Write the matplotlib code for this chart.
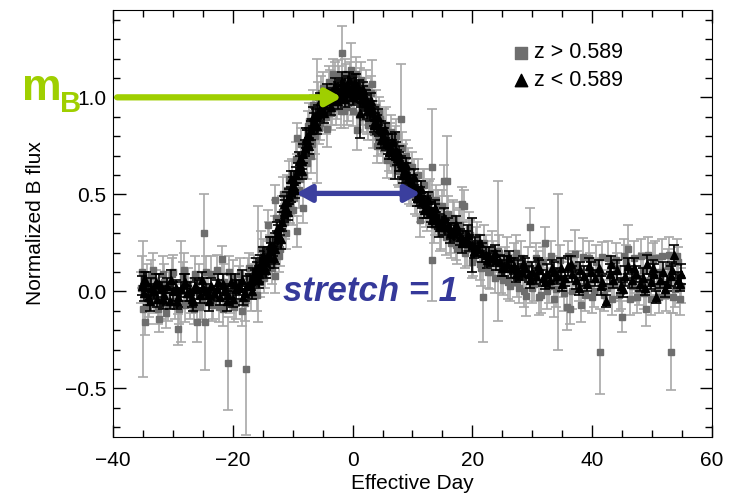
#
# lightcurve_stack.py
# -------------------
#

import matplotlib
matplotlib.use("Agg")
import matplotlib.pyplot as plt
from matplotlib.ticker import MultipleLocator

plt.rcParams['font.family'] = ['Liberation Sans', 'DejaVu Sans']

# z < 0.589 : (effective day, normalized flux, error)
low_pts = [
    (-35.2, 0.03, 0.05), (-34.9, 0.06, 0.04), (-34.8, -0.01, 0.04), (-34.5, 0.05, 0.05),
    (-34.1, -0.03, 0.04), (-33.9, -0.05, 0.05), (-33.6, 0.02, 0.05), (-33.2, 0.00, 0.04),
    (-32.9, 0.05, 0.04), (-32.7, -0.04, 0.04), (-32.3, 0.04, 0.05), (-31.8, 0.01, 0.04),
    (-31.6, -0.04, 0.05), (-31.4, -0.02, 0.05), (-30.9, 0.03, 0.04), (-30.5, -0.05, 0.04),
    (-30.3, 0.06, 0.05), (-30.0, 0.00, 0.05), (-29.5, 0.02, 0.04), (-29.3, -0.05, 0.04),
    (-29.1, -0.03, 0.05), (-28.6, 0.01, 0.04), (-28.2, 0.04, 0.05), (-28.0, 0.05, 0.04),
    (-27.7, -0.01, 0.04), (-27.2, 0.00, 0.05), (-26.8, -0.04, 0.04), (-26.6, -0.05, 0.05),
    (-26.3, 0.03, 0.04), (-25.9, 0.01, 0.05), (-25.4, -0.02, 0.04), (-25.2, 0.06, 0.04),
    (-24.9, 0.02, 0.05), (-24.5, 0.00, 0.04), (-24.0, -0.05, 0.05), (-23.9, -0.02, 0.04),
    (-23.6, 0.03, 0.04), (-23.1, -0.01, 0.04), (-22.6, 0.01, 0.05), (-22.4, 0.05, 0.04),
    (-22.2, -0.03, 0.04), (-21.7, 0.04, 0.05), (-21.3, 0.00, 0.04), (-21.0, -0.05, 0.05),
    (-20.8, -0.02, 0.05), (-20.3, 0.05, 0.04), (-19.9, -0.04, 0.04), (-19.6, 0.04, 0.05),
    (-19.4, 0.01, 0.05), (-19.0, 0.02, 0.04), (-18.5, 0.06, 0.05), (-18.3, -0.03, 0.04),
    (-18.0, -0.01, 0.04), (-17.6, 0.03, 0.05), (-17.2, 0.05, 0.04), (-16.9, 0.03, 0.05),
    (-16.8, 0.00, 0.04), (-16.6, 0.08, 0.04), (-16.3, 0.07, 0.04), (-16.2, 0.12, 0.05),
    (-16.0, 0.10, 0.05), (-15.7, 0.09, 0.04), (-15.6, 0.06, 0.04), (-15.4, 0.14, 0.05),
    (-15.1, 0.12, 0.04), (-15.0, 0.18, 0.05), (-14.8, 0.16, 0.05), (-14.5, 0.15, 0.04),
    (-14.4, 0.11, 0.04), (-14.2, 0.19, 0.04), (-13.9, 0.17, 0.05), (-13.8, 0.24, 0.04),
    (-13.6, 0.21, 0.04), (-13.3, 0.23, 0.05), (-13.2, 0.17, 0.05), (-13.0, 0.22, 0.08),
    (-12.7, 0.27, 0.04), (-12.6, 0.32, 0.04), (-12.4, 0.29, 0.05), (-12.1, 0.33, 0.04),
    (-12.0, 0.27, 0.05), (-11.8, 0.36, 0.05), (-11.5, 0.40, 0.04), (-11.4, 0.45, 0.04),
    (-11.2, 0.43, 0.04), (-10.9, 0.46, 0.05), (-10.8, 0.41, 0.04), (-10.6, 0.49, 0.04),
    (-10.3, 0.51, 0.05), (-10.2, 0.58, 0.04), (-10.0, 0.55, 0.04), (-9.7, 0.57, 0.05),
    (-9.6, 0.52, 0.04), (-9.4, 0.60, 0.04), (-9.1, 0.62, 0.04), (-9.0, 0.67, 0.05),
    (-8.8, 0.65, 0.05), (-8.5, 0.67, 0.04), (-8.4, 0.62, 0.04), (-8.2, 0.71, 0.05),
    (-7.9, 0.74, 0.04), (-7.8, 0.79, 0.05), (-7.6, 0.78, 0.05), (-7.3, 0.80, 0.04),
    (-7.2, 0.75, 0.04), (-7.0, 0.83, 0.05), (-6.7, 0.85, 0.04), (-6.6, 0.90, 0.05),
    (-6.4, 0.87, 0.05), (-6.1, 0.90, 0.04), (-6.0, 0.85, 0.04), (-5.8, 0.92, 0.04),
    (-5.5, 0.94, 0.05), (-5.4, 0.98, 0.04), (-5.2, 0.95, 0.04), (-4.9, 0.97, 0.05),
    (-4.8, 0.92, 0.05), (-4.6, 0.96, 0.04), (-4.3, 0.99, 0.05), (-4.2, 1.03, 0.04),
    (-4.0, 1.00, 0.04), (-3.7, 0.98, 0.05), (-3.6, 0.95, 0.04), (-3.4, 1.01, 0.04),
    (-3.1, 1.02, 0.05), (-3.0, 1.06, 0.04), (-2.8, 1.00, 0.04), (-2.5, 1.03, 0.05),
    (-2.4, 0.98, 0.04), (-2.2, 1.01, 0.04), (-1.9, 1.04, 0.05), (-1.8, 1.08, 0.05),
    (-1.6, 1.02, 0.04), (-1.3, 1.05, 0.05), (-1.2, 0.99, 0.04), (-1.0, 1.03, 0.04),
    (-0.7, 1.06, 0.05), (-0.6, 1.09, 0.04), (-0.4, 1.02, 0.04), (-0.1, 1.04, 0.06),
    (0.0, 1.00, 0.04), (0.2, 1.07, 0.05), (0.5, 1.03, 0.04), (0.6, 1.07, 0.05),
    (0.8, 1.01, 0.04), (1.1, 1.04, 0.05), (1.2, 0.92, 0.13), (1.4, 0.99, 0.04),
    (1.7, 1.01, 0.05), (1.8, 1.04, 0.04), (2.0, 0.97, 0.04), (2.3, 0.99, 0.05),
    (2.4, 0.93, 0.04), (2.6, 0.95, 0.04), (2.9, 0.93, 0.05), (3.0, 0.98, 0.04),
    (3.2, 0.94, 0.04), (3.5, 0.90, 0.05), (3.6, 0.86, 0.04), (3.8, 0.88, 0.04),
    (4.1, 0.86, 0.05), (4.2, 0.90, 0.04), (4.4, 0.84, 0.04), (4.7, 0.83, 0.05),
    (4.8, 0.78, 0.04), (5.0, 0.80, 0.04), (5.3, 0.79, 0.05), (5.4, 0.83, 0.04),
    (5.6, 0.77, 0.04), (5.9, 0.76, 0.05), (6.0, 0.72, 0.04), (6.2, 0.74, 0.04),
    (6.5, 0.73, 0.05), (6.6, 0.77, 0.04), (6.8, 0.72, 0.04), (7.1, 0.70, 0.12),
    (7.2, 0.73, 0.04), (7.4, 0.69, 0.04), (7.7, 0.67, 0.05), (7.8, 0.71, 0.04),
    (8.0, 0.66, 0.04), (8.3, 0.64, 0.05), (8.4, 0.60, 0.04), (8.6, 0.62, 0.04),
    (8.9, 0.61, 0.05), (9.0, 0.65, 0.04), (9.2, 0.59, 0.04), (9.5, 0.58, 0.05),
    (9.6, 0.54, 0.04), (9.8, 0.56, 0.04), (10.1, 0.55, 0.05), (10.2, 0.59, 0.04),
    (10.4, 0.53, 0.04), (10.7, 0.52, 0.05), (10.8, 0.48, 0.04), (11.0, 0.50, 0.04),
    (11.3, 0.49, 0.05), (11.4, 0.53, 0.04), (11.6, 0.47, 0.04), (11.9, 0.46, 0.05),
    (12.0, 0.42, 0.04), (12.2, 0.45, 0.04), (12.5, 0.43, 0.05), (12.6, 0.47, 0.04),
    (12.8, 0.42, 0.04), (13.1, 0.41, 0.05), (13.2, 0.37, 0.04), (13.4, 0.39, 0.04),
    (13.7, 0.40, 0.05), (13.8, 0.43, 0.04), (14.0, 0.37, 0.04), (14.4, 0.33, 0.05),
    (14.5, 0.36, 0.04), (15.0, 0.35, 0.04), (15.2, 0.38, 0.05), (15.5, 0.33, 0.04),
    (16.0, 0.34, 0.04), (16.2, 0.30, 0.05), (16.5, 0.31, 0.04), (17.0, 0.30, 0.04),
    (17.2, 0.34, 0.05), (17.5, 0.31, 0.04), (18.0, 0.28, 0.04), (18.2, 0.25, 0.05),
    (18.5, 0.27, 0.04), (19.0, 0.27, 0.04), (19.2, 0.29, 0.05), (19.5, 0.25, 0.04),
    (20.0, 0.24, 0.14), (20.2, 0.21, 0.04), (20.5, 0.23, 0.05), (21.0, 0.22, 0.04),
    (21.3, 0.25, 0.04), (21.6, 0.20, 0.05), (22.2, 0.19, 0.04), (22.5, 0.16, 0.04),
    (22.8, 0.18, 0.05), (23.4, 0.17, 0.04), (23.7, 0.20, 0.04), (24.0, 0.16, 0.05),
    (24.6, 0.15, 0.04), (24.9, 0.12, 0.04), (25.2, 0.13, 0.05), (25.8, 0.14, 0.04),
    (26.1, 0.17, 0.04), (26.4, 0.12, 0.05), (27.0, 0.13, 0.04), (27.3, 0.09, 0.04),
    (27.6, 0.11, 0.05), (28.2, 0.10, 0.04), (28.5, 0.14, 0.04), (28.8, 0.12, 0.05),
    (29.4, 0.09, 0.04), (29.7, 0.06, 0.04), (30.0, 0.10, 0.05), (30.6, 0.08, 0.04),
    (31.0, 0.13, 0.04), (31.2, 0.11, 0.05), (31.8, 0.07, 0.04), (32.2, 0.05, 0.04),
    (32.4, 0.09, 0.05), (33.0, 0.06, 0.04), (33.3, 0.12, 0.04), (33.6, 0.10, 0.05),
    (34.2, 0.08, 0.04), (34.8, 0.12, 0.05), (35.0, 0.04, 0.04), (35.4, 0.07, 0.04),
    (36.0, 0.13, 0.05), (36.4, 0.14, 0.04), (36.7, 0.09, 0.04), (37.3, 0.06, 0.05),
    (37.8, 0.02, 0.04), (38.0, 0.11, 0.04), (38.6, 0.08, 0.05), (39.2, 0.04, 0.04),
    (39.5, 0.13, 0.04), (39.8, 0.10, 0.05), (40.5, 0.07, 0.04), (41.1, 0.12, 0.04),
    (41.4, 0.03, 0.05), (41.7, 0.05, 0.04), (42.3, -0.05, 0.03), (42.9, 0.09, 0.05),
    (43.2, 0.14, 0.04), (43.5, 0.06, 0.04), (44.2, 0.11, 0.05), (44.8, 0.03, 0.04),
    (45.1, 0.01, 0.04), (45.4, 0.08, 0.05), (46.0, 0.13, 0.04), (46.6, 0.06, 0.04),
    (47.0, 0.12, 0.05), (47.3, 0.09, 0.04), (47.9, 0.04, 0.04), (48.5, 0.07, 0.05),
    (48.8, 0.02, 0.04), (49.2, 0.14, 0.05), (49.8, 0.05, 0.04), (50.1, 0.12, 0.04),
    (50.4, 0.09, 0.05), (50.7, -0.03, 0.03), (51.3, 0.06, 0.04), (51.9, 0.10, 0.05),
    (52.2, 0.01, 0.04), (52.5, 0.04, 0.04), (53.1, 0.08, 0.05), (53.4, 0.11, 0.04),
    (53.7, 0.19, 0.05), (54.3, 0.06, 0.04), (54.6, 0.04, 0.04), (54.9, 0.09, 0.05),
]

# z > 0.589 : (effective day, normalized flux, error)
high_pts = [
    (-35.3, 0.02, 0.08), (-35.1, 0.10, 0.08), (-35.0, -0.09, 0.35), (-34.7, -0.155, 0.07),
    (-34.4, 0.06, 0.08), (-34.2, -0.08, 0.09), (-34.0, -0.04, 0.09), (-33.6, 0.08, 0.08),
    (-33.4, 0.11, 0.09), (-33.2, -0.02, 0.09), (-32.8, 0.03, 0.08), (-32.5, -0.09, 0.08),
    (-32.3, -0.14, 0.07), (-31.9, -0.06, 0.08), (-31.7, 0.09, 0.09), (-31.5, 0.05, 0.09),
    (-31.1, -0.11, 0.08), (-30.8, -0.07, 0.08), (-30.6, 0.01, 0.09), (-30.2, 0.09, 0.08),
    (-29.9, 0.10, 0.09), (-29.7, -0.05, 0.09), (-29.2, -0.195, 0.08), (-29.0, -0.09, 0.08),
    (-28.7, 0.00, 0.26), (-28.3, 0.07, 0.08), (-28.1, 0.11, 0.09), (-27.9, -0.07, 0.09),
    (-27.4, 0.04, 0.08), (-27.2, -0.06, 0.08), (-26.9, -0.02, 0.09), (-26.5, -0.09, 0.08),
    (-26.3, 0.09, 0.09), (-26.0, -0.16, 0.10), (-25.6, 0.06, 0.08), (-25.4, -0.08, 0.08),
    (-25.1, -0.05, 0.09), (-24.8, 0.30, 0.20), (-24.6, -0.155, 0.25), (-24.4, 0.10, 0.08),
    (-24.2, 0.02, 0.08), (-23.7, 0.09, 0.09), (-23.5, -0.07, 0.08), (-23.3, -0.06, 0.08),
    (-22.8, 0.01, 0.09), (-22.6, 0.11, 0.08), (-22.3, -0.08, 0.08), (-21.8, 0.165, 0.07),
    (-21.6, -0.09, 0.09), (-21.4, 0.05, 0.09), (-20.8, -0.37, 0.24), (-20.7, 0.10, 0.08),
    (-20.5, -0.03, 0.08), (-20.0, 0.07, 0.09), (-19.8, -0.08, 0.08), (-19.5, -0.06, 0.08),
    (-19.0, 0.04, 0.09), (-18.8, 0.09, 0.08), (-18.5, -0.10, 0.08), (-18.0, -0.06, 0.09),
    (-17.8, -0.40, 0.34), (-17.5, 0.08, 0.09), (-17.3, 0.12, 0.08), (-17.0, -0.02, 0.08),
    (-16.8, 0.05, 0.09), (-16.5, 0.10, 0.09), (-16.0, -0.02, 0.08), (-15.8, 0.14, 0.30),
    (-15.5, 0.05, 0.08), (-15.3, 0.22, 0.09), (-15.0, 0.18, 0.09), (-14.8, 0.07, 0.08),
    (-14.6, 0.10, 0.08), (-14.2, 0.34, 0.08), (-14.0, 0.27, 0.09), (-13.8, 0.20, 0.09),
    (-13.6, 0.15, 0.08), (-13.4, 0.12, 0.08), (-13.0, 0.47, 0.08), (-12.9, 0.08, 0.09),
    (-12.8, 0.38, 0.09), (-12.5, 0.30, 0.08), (-12.3, 0.18, 0.08), (-12.1, 0.22, 0.09),
    (-11.7, 0.41, 0.08), (-11.6, 0.50, 0.09), (-11.3, 0.36, 0.09), (-11.1, 0.30, 0.08),
    (-10.9, 0.52, 0.08), (-10.6, 0.58, 0.09), (-10.5, 0.44, 0.09), (-10.1, 0.60, 0.08),
    (-10.0, 0.42, 0.08), (-9.7, 0.48, 0.09), (-9.5, 0.68, 0.09), (-9.3, 0.31, 0.08),
    (-9.2, 0.79, 0.08), (-9.0, 0.52, 0.09), (-8.8, 0.58, 0.09), (-8.6, 0.76, 0.08),
    (-8.3, 0.43, 0.08), (-8.1, 0.60, 0.09), (-8.0, 0.74, 0.09), (-7.6, 0.66, 0.08),
    (-7.4, 0.85, 0.08), (-7.2, 0.88, 0.09), (-7.0, 0.70, 0.09), (-6.8, 0.76, 0.08),
    (-6.6, 0.96, 0.08), (-6.4, 0.92, 0.09), (-6.2, 0.80, 0.09), (-6.0, 0.88, 0.32),
    (-5.8, 1.00, 0.08), (-5.6, 0.84, 0.08), (-5.4, 0.87, 0.09), (-5.2, 1.02, 0.09),
    (-5.0, 1.05, 0.08), (-4.8, 0.91, 0.08), (-4.5, 0.90, 0.09), (-4.2, 0.835, 0.09),
    (-4.0, 1.08, 0.08), (-3.8, 1.06, 0.08), (-3.6, 0.92, 0.09), (-3.4, 0.95, 0.09),
    (-3.2, 1.12, 0.08), (-3.0, 1.10, 0.08), (-2.8, 0.95, 0.09), (-2.6, 0.98, 0.09),
    (-2.4, 1.11, 0.08), (-2.2, 1.08, 0.08), (-2.0, 0.93, 0.09), (-1.8, 1.23, 0.14),
    (-1.5, 0.93, 0.09), (-1.3, 1.12, 0.08), (-1.1, 1.09, 0.08), (-0.9, 0.95, 0.09),
    (-0.7, 0.97, 0.09), (-0.4, 1.10, 0.08), (-0.2, 1.14, 0.14), (0.0, 0.93, 0.08),
    (0.2, 0.99, 0.08), (0.5, 1.12, 0.09), (0.8, 0.83, 0.10), (1.0, 0.91, 0.08),
    (1.2, 1.07, 0.08), (1.4, 1.09, 0.09), (1.6, 0.95, 0.09), (1.8, 0.90, 0.08),
    (2.0, 1.02, 0.08), (2.2, 1.05, 0.09), (2.4, 0.90, 0.09), (2.6, 0.86, 0.08),
    (2.8, 0.99, 0.08), (3.0, 1.02, 0.09), (3.2, 1.07, 0.12), (3.4, 0.82, 0.08),
    (3.6, 0.86, 0.08), (3.9, 0.95, 0.09), (4.0, 0.75, 0.09), (4.2, 0.78, 0.08),
    (4.4, 0.92, 0.08), (4.6, 0.89, 0.09), (4.8, 0.80, 0.09), (5.0, 0.74, 0.08),
    (5.2, 0.86, 0.08), (5.5, 0.86, 0.09), (5.8, 0.675, 0.09), (6.0, 0.70, 0.08),
    (6.2, 0.79, 0.08), (6.4, 0.82, 0.09), (6.6, 0.70, 0.09), (6.8, 0.66, 0.08),
    (7.0, 0.77, 0.08), (7.2, 0.80, 0.09), (7.5, 0.64, 0.09), (7.8, 0.62, 0.08),
    (8.0, 0.89, 0.28), (8.2, 0.74, 0.08), (8.4, 0.67, 0.09), (8.6, 0.58, 0.09),
    (8.8, 0.58, 0.08), (9.0, 0.70, 0.08), (9.3, 0.65, 0.09), (9.5, 0.54, 0.09),
    (9.8, 0.52, 0.08), (10.0, 0.64, 0.08), (10.3, 0.59, 0.09), (10.5, 0.49, 0.09),
    (10.8, 0.47, 0.08), (11.0, 0.60, 0.08), (11.2, 0.37, 0.09), (11.5, 0.45, 0.09),
    (11.7, 0.55, 0.08), (12.0, 0.55, 0.08), (12.2, 0.42, 0.09), (12.5, 0.40, 0.09),
    (12.7, 0.49, 0.08), (13.0, 0.50, 0.08), (13.2, 0.64, 0.30), (13.3, 0.16, 0.21),
    (13.6, 0.34, 0.09), (13.8, 0.38, 0.09), (14.0, 0.47, 0.08), (14.3, 0.44, 0.08),
    (14.6, 0.30, 0.09), (14.8, 0.31, 0.09), (15.0, 0.44, 0.08), (15.3, 0.57, 0.08),
    (15.6, 0.28, 0.09), (15.7, 0.57, 0.23), (16.0, 0.40, 0.09), (16.2, 0.28, 0.08),
    (16.5, 0.25, 0.08), (16.7, 0.38, 0.09), (17.0, 0.37, 0.09), (17.2, 0.24, 0.08),
    (17.5, 0.22, 0.08), (17.7, 0.33, 0.09), (18.0, 0.34, 0.09), (18.3, 0.45, 0.09),
    (18.6, 0.44, 0.08), (18.8, 0.20, 0.08), (19.1, 0.22, 0.09), (19.4, 0.32, 0.09),
    (19.6, 0.29, 0.08), (20.0, 0.15, 0.08), (20.1, 0.17, 0.09), (20.6, 0.24, 0.09),
    (20.8, 0.28, 0.08), (21.2, 0.14, 0.08), (21.5, 0.12, 0.09), (21.8, -0.03, 0.23),
    (22.0, 0.25, 0.09), (22.3, 0.21, 0.08), (22.6, 0.10, 0.08), (22.9, 0.10, 0.09),
    (23.2, 0.22, 0.09), (23.5, 0.18, 0.08), (23.8, 0.07, 0.08), (24.2, 0.21, 0.36),
    (24.5, 0.20, 0.09), (24.8, 0.08, 0.09), (25.1, 0.06, 0.08), (25.4, 0.15, 0.08),
    (25.7, 0.19, 0.09), (26.0, 0.05, 0.09), (26.3, 0.03, 0.08), (26.6, 0.11, 0.08),
    (27.0, 0.16, 0.09), (27.2, 0.20, 0.09), (27.5, 0.05, 0.08), (27.8, 0.02, 0.08),
    (28.1, 0.17, 0.09), (28.4, 0.09, 0.09), (28.7, 0.00, 0.08), (29.0, -0.025, 0.10),
    (29.3, 0.14, 0.09), (29.7, 0.33, 0.10), (30.0, 0.02, 0.08), (30.3, 0.04, 0.09),
    (30.6, 0.17, 0.08), (30.9, 0.13, 0.08), (31.2, -0.03, 0.09), (31.5, -0.02, 0.09),
    (31.8, 0.15, 0.08), (32.2, 0.25, 0.08), (32.5, 0.00, 0.09), (32.8, 0.03, 0.09),
    (33.1, 0.18, 0.08), (33.4, 0.10, 0.08), (33.7, -0.04, 0.09), (34.0, 0.01, 0.09),
    (34.3, 0.10, 0.40), (34.6, 0.16, 0.08), (35.0, 0.06, 0.09), (35.3, -0.01, 0.09),
    (35.8, -0.08, 0.12), (36.0, 0.18, 0.08), (36.3, -0.09, 0.08), (36.6, 0.00, 0.09),
    (36.8, 0.12, 0.09), (37.2, 0.195, 0.12), (37.5, 0.13, 0.08), (37.8, 0.03, 0.08),
    (38.2, -0.07, 0.09), (38.5, 0.175, 0.10), (38.8, -0.02, 0.08), (39.1, 0.05, 0.08),
    (39.4, 0.17, 0.09), (39.7, 0.11, 0.09), (40.0, -0.03, 0.08), (40.3, 0.00, 0.08),
    (40.6, 0.15, 0.09), (40.9, 0.08, 0.09), (41.3, -0.31, 0.22), (41.7, 0.175, 0.08),
    (42.0, -0.02, 0.08), (42.4, 0.02, 0.09), (42.7, 0.17, 0.09), (43.0, 0.09, 0.08),
    (43.3, -0.04, 0.08), (43.6, 0.04, 0.09), (43.9, 0.16, 0.09), (44.2, 0.12, 0.08),
    (44.5, -0.02, 0.08), (44.8, 0.00, 0.09), (45.0, -0.13, 0.08), (45.3, 0.18, 0.09),
    (45.6, 0.15, 0.09), (46.0, 0.22, 0.12), (46.3, -0.04, 0.08), (46.6, 0.03, 0.08),
    (46.9, 0.17, 0.09), (47.2, 0.08, 0.09), (47.5, -0.03, 0.08), (47.8, 0.01, 0.08),
    (48.1, 0.18, 0.09), (48.4, 0.11, 0.09), (48.7, -0.01, 0.08), (49.0, -0.09, 0.09),
    (49.3, 0.19, 0.09), (49.6, 0.06, 0.08), (49.9, -0.04, 0.08), (50.2, 0.16, 0.09),
    (50.5, 0.17, 0.09), (50.8, 0.02, 0.08), (51.1, -0.03, 0.08), (51.4, 0.10, 0.09),
    (51.7, 0.18, 0.09), (52.0, 0.04, 0.08), (52.3, -0.02, 0.08), (52.6, 0.13, 0.09),
    (52.9, 0.19, 0.09), (53.2, -0.31, 0.20), (53.5, -0.03, 0.08), (53.8, 0.01, 0.09),
    (54.1, 0.18, 0.09), (54.4, 0.15, 0.08), (54.7, -0.04, 0.08), (54.9, 0.03, 0.09),
]

legend_labels = ['z > 0.589', 'z < 0.589']


def drawLightcurves():
    low_day, low_flux, low_err = zip(*low_pts)
    high_day, high_flux, high_err = zip(*high_pts)

    fig = plt.figure(figsize=(7.35, 4.95), dpi=100)
    ax = fig.add_axes([0.1537, 0.1172, 0.8150, 0.8626])

    ax.errorbar(high_day, high_flux, yerr=high_err, fmt='s', ms=4.5,
                color='#6e6e6e', ecolor='#a8a8a8', elinewidth=1.2,
                capsize=3.5, capthick=1.2, zorder=2)
    ax.errorbar(low_day, low_flux, yerr=low_err, fmt='^', ms=6,
                color='black', ecolor='black', elinewidth=1.2,
                capsize=3.5, capthick=1.2, zorder=3)

    ax.set_xlim(-40, 60)
    ax.set_ylim(-0.75, 1.45)
    ax.xaxis.set_major_locator(MultipleLocator(20))
    ax.xaxis.set_minor_locator(MultipleLocator(5))
    ax.yaxis.set_major_locator(MultipleLocator(0.5))
    ax.yaxis.set_minor_locator(MultipleLocator(0.1))
    ax.tick_params(which='both', direction='in', top=True, right=True,
                   labelsize=15, width=1)
    ax.tick_params(which='major', length=9)
    ax.tick_params(which='minor', length=5)
    ax.tick_params(axis='x', which='major', pad=10)
    ax.tick_params(axis='y', which='major', pad=5)
    ax.set_xlabel('Effective Day', fontsize=15, labelpad=3)
    ax.set_ylabel('Normalized B flux', fontsize=15, labelpad=14)

    # legend
    h_sq = ax.scatter([], [], marker='s', s=70, color='#6e6e6e')
    h_tri = ax.scatter([], [], marker='^', s=80, color='black')
    ax.legend([h_sq, h_tri], legend_labels, loc='upper left',
              bbox_to_anchor=(0.638, 0.97), frameon=False, fontsize=15.5,
              handlelength=0.6, handletextpad=0.3, labelspacing=0.3)

    # peak flux arrow
    ax.annotate('', xy=(-1.8, 1.0), xytext=(-39.3, 1.0),
                arrowprops=dict(arrowstyle='-|>,head_length=0.9,head_width=0.5',
                                color='#9fcf00', lw=4.5, shrinkA=0, shrinkB=0),
                annotation_clip=False, zorder=5)
    fig.text(0.030, 0.798, 'm', color='#9fcf00', fontsize=32,
             fontweight='bold')
    fig.text(0.082, 0.774, 'B', color='#9fcf00', fontsize=21,
             fontweight='bold')

    # width arrow
    ax.annotate('', xy=(11.3, 0.505), xytext=(-9.4, 0.505),
                arrowprops=dict(arrowstyle='<|-|>,head_length=0.9,head_width=0.5',
                                color='#3b3f9e', lw=3.8, shrinkA=0, shrinkB=0),
                zorder=5)
    ax.text(3.0, 0.0, 'stretch = 1', color='#35399a', fontsize=25,
            fontweight='bold', fontstyle='italic', ha='center', va='center',
            zorder=6)

    plt.savefig('out.png', dpi=100)


if __name__ == "__main__":
    drawLightcurves()
